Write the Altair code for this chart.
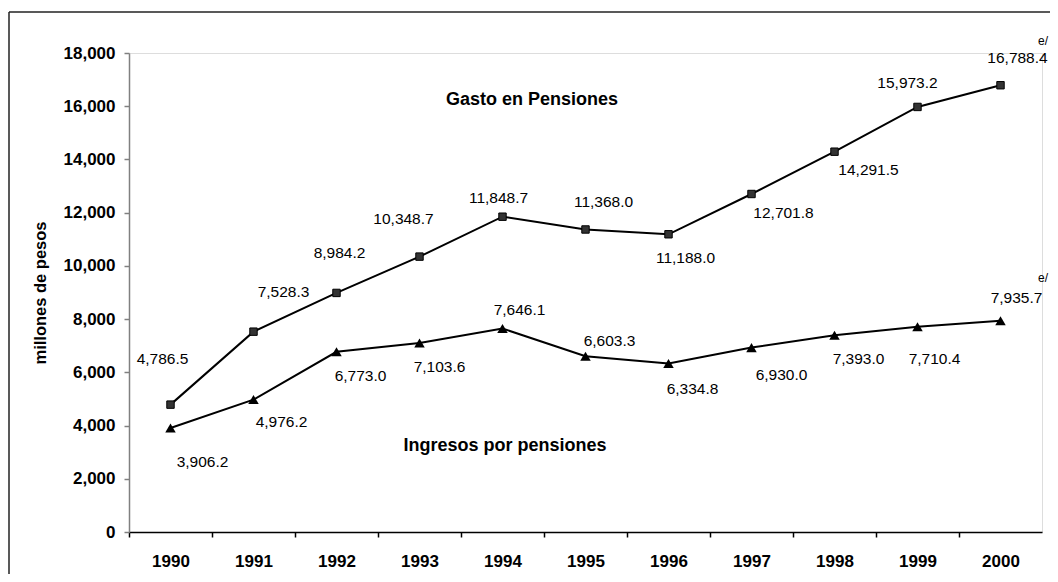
import altair as alt
import pandas as pd

# ---- data ----
years = [1990, 1991, 1992, 1993, 1994, 1995, 1996, 1997, 1998, 1999, 2000]
gasto = [4786.5, 7528.3, 8984.2, 10348.7, 11848.7, 11368.0, 11188.0, 12701.8, 14291.5, 15973.2, 16788.4]
ingresos = [3906.2, 4976.2, 6773.0, 7103.6, 7646.1, 6603.3, 6334.8, 6930.0, 7393.0, 7710.4, 7935.7]
series_names = ["Gasto en Pensiones", "Ingresos por pensiones"]
y_ticks = [0, 2000, 4000, 6000, 8000, 10000, 12000, 14000, 16000, 18000]
y_title = "millones de pesos"

# ---- label placement (pixel offsets from each point, style only) ----
gasto_off = [(-8, -46), (30, -40), (3, -40), (-16, -38), (-4, -19), (18, -27),
             (17, 24), (32, 19), (34, 18), (-10, -24), (17, -27)]
ingresos_off = [(32, 34), (28, 22), (24, 24), (20, 24), (17, -19), (24, -15),
                (24, 26), (30, 27), (24, 24), (17, 32), (16, -23)]

W, H = 913, 479
X_DOM = [1989.5, 2000.5]
Y_DOM = [0, 18000]
px_per_year = W / (X_DOM[1] - X_DOM[0])
units_per_px = (Y_DOM[1] - Y_DOM[0]) / H

rows = []
for name, vals, offs in [(series_names[0], gasto, gasto_off), (series_names[1], ingresos, ingresos_off)]:
    for yr, v, (dx, dy) in zip(years, vals, offs):
        rows.append({"year": yr, "value": v, "series": name,
                     "lx": yr + dx / px_per_year, "ly": v - dy * units_per_px})
df = pd.DataFrame(rows)

FONT = "Liberation Sans"

x_enc = alt.X("year:Q", scale=alt.Scale(domain=X_DOM, nice=False, zero=False),
              axis=alt.Axis(values=years, format="d", title=None, grid=False,
                            tickOffset=-px_per_year / 2, labelOffset=px_per_year / 2,
                            domainColor="black", domainWidth=1.5, tickColor="black",
                            tickSize=5, tickWidth=1.5, labelPadding=16,
                            labelFont=FONT, labelFontSize=17, labelFontWeight="bold",
                            labelColor="black"))
y_enc = alt.Y("value:Q", scale=alt.Scale(domain=Y_DOM, nice=False),
              axis=alt.Axis(values=y_ticks, format=",d", title=y_title, grid=False,
                            domainColor="#808080", domainWidth=1.5, tickColor="#808080",
                            tickSize=5, tickWidth=1.5, labelPadding=9,
                            labelFont=FONT, labelFontSize=17, labelFontWeight="bold",
                            labelColor="black",
                            titleFont=FONT, titleFontSize=16.5, titleFontWeight="bold",
                            titleColor="black", titleAngle=-90, titleX=-89, titleY=H / 2,
                            titleAlign="center", titleBaseline="middle"))

base = alt.Chart(df)
one = alt.Data(values=[{"a": 1}])

# outer frame: only the top and left edges fall inside the picture
frame_top = alt.Chart(one).mark_rule(color="#222222", strokeWidth=1.5).encode(
    x=alt.value(-120), x2=alt.value(921), y=alt.value(-41))
frame_left = alt.Chart(one).mark_rule(color="#222222", strokeWidth=1.5).encode(
    x=alt.value(-120), y=alt.value(-41), y2=alt.value(521))

lines = base.mark_line(color="black", strokeWidth=2).encode(x=x_enc, y=y_enc, detail="series:N")

sq = base.transform_filter(alt.datum.series == series_names[0]).mark_point(
    shape="square", filled=True, size=55, color="#333333", stroke="black", strokeWidth=1, opacity=1
).encode(x="year:Q", y="value:Q")

tri = base.transform_filter(alt.datum.series == series_names[1]).mark_point(
    shape="triangle-up", filled=True, size=110, color="black", opacity=1
).encode(x="year:Q", y="value:Q")

labels = base.mark_text(font=FONT, fontSize=15.5, align="center", baseline="middle", color="black").encode(
    x="lx:Q", y="ly:Q", text=alt.Text("value:Q", format=",.1f"))

t1 = alt.Chart(alt.Data(values=[{"t": series_names[0]}])).mark_text(
    font=FONT, fontSize=18, fontWeight="bold", align="center", baseline="middle", color="black"
).encode(x=alt.value(403), y=alt.value(47), text="t:N")
t2 = alt.Chart(alt.Data(values=[{"t": series_names[1]}])).mark_text(
    font=FONT, fontSize=18, fontWeight="bold", align="center", baseline="middle", color="black"
).encode(x=alt.value(376), y=alt.value(393), text="t:N")

e1 = alt.Chart(alt.Data(values=[{"t": "e/"}])).mark_text(
    font=FONT, fontSize=12, align="left", baseline="middle", color="black"
).encode(x=alt.value(909), y=alt.value(-12), text="t:N")
e2 = alt.Chart(alt.Data(values=[{"t": "e/"}])).mark_text(
    font=FONT, fontSize=12, align="left", baseline="middle", color="black"
).encode(x=alt.value(909), y=alt.value(225), text="t:N")

chart = alt.layer(frame_top, frame_left, lines, sq, tri, labels, t1, t2, e1, e2).properties(
    width=W, height=H,
    autosize=alt.AutoSizeParams(type="none"),
    padding={"left": 121, "top": 45, "right": 8, "bottom": 42},
).configure_view(strokeWidth=0).configure(font=FONT)

chart.save("out.html", embed_options={"renderer": "svg", "actions": False})
